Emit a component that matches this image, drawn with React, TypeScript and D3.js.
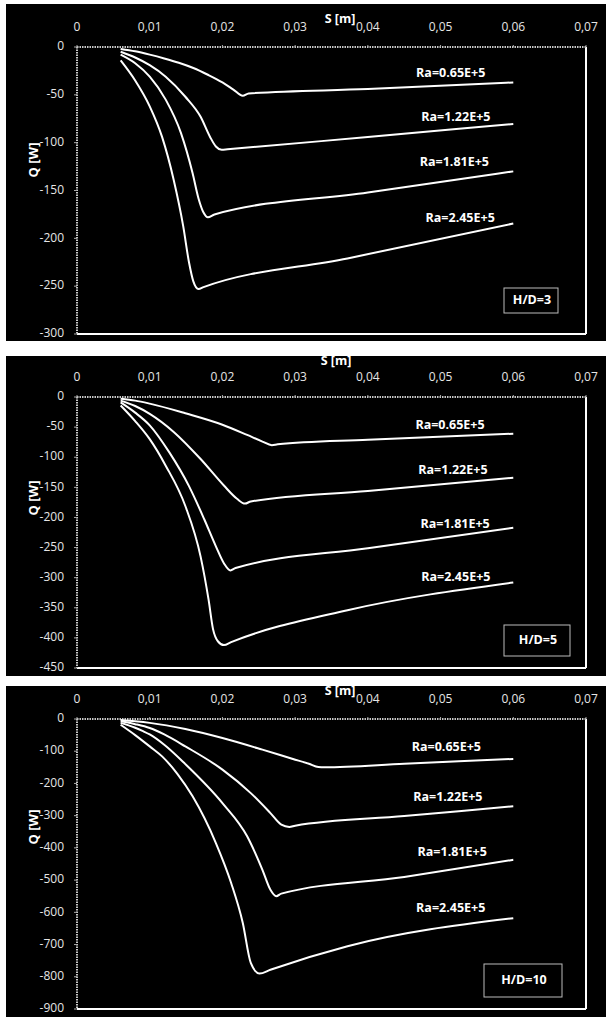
import React from "react";
import * as d3 from "d3";

// ---- data (S in m, Q in W) ----
const seriesNames = ["Ra=0.65E+5", "Ra=1.22E+5", "Ra=1.81E+5", "Ra=2.45E+5"];
const xTicks = [0, 0.01, 0.02, 0.03, 0.04, 0.05, 0.06, 0.07];

// H/D = 3
const hd3_065: [number, number][] = [[0.006, -2], [0.008, -4.5], [0.01, -8], [0.012, -12], [0.014, -16.5], [0.016, -22], [0.018, -29], [0.02, -37], [0.0215, -44.5], [0.0228, -51], [0.0236, -48.5], [0.04, -44], [0.06, -37]];
const hd3_122: [number, number][] = [[0.006, -5], [0.008, -11], [0.01, -19], [0.0122, -31], [0.0149, -52], [0.017, -73], [0.0183, -94], [0.0191, -104], [0.0199, -107.5], [0.0207, -107], [0.04, -94], [0.06, -80.5]];
const hd3_181: [number, number][] = [[0.006, -8], [0.008, -17], [0.01, -31], [0.0122, -55], [0.0143, -90], [0.0159, -132], [0.0167, -158], [0.0174, -173], [0.018, -178], [0.0189, -175], [0.04, -152], [0.06, -130]];
const hd3_245: [number, number][] = [[0.006, -14], [0.008, -35], [0.01, -62], [0.0117, -94], [0.0133, -139], [0.0146, -187], [0.0154, -225], [0.016, -245], [0.0167, -253], [0.0174, -251], [0.0372, -221], [0.06, -184.5]];

// H/D = 5
const hd5_065: [number, number][] = [[0.006, -3], [0.008, -6], [0.01, -11], [0.0149, -27], [0.02, -46], [0.0234, -63], [0.0255, -74], [0.0268, -80], [0.0276, -78.5], [0.04, -71], [0.06, -61]];
const hd5_122: [number, number][] = [[0.006, -6], [0.008, -15], [0.01, -28], [0.0133, -58], [0.017, -103], [0.0202, -147], [0.022, -169], [0.0231, -177], [0.0239, -173.5], [0.04, -156], [0.06, -134]];
const hd5_181: [number, number][] = [[0.006, -9], [0.008, -26], [0.01, -47], [0.0127, -92], [0.0154, -148], [0.0175, -203], [0.0191, -248], [0.0202, -276], [0.0211, -288], [0.0218, -284], [0.04, -251], [0.06, -217]];
const hd5_245: [number, number][] = [[0.006, -14], [0.008, -40], [0.01, -70], [0.0122, -114], [0.0149, -181], [0.017, -265], [0.0181, -337], [0.0187, -385], [0.0194, -406], [0.0202, -412], [0.0212, -407], [0.0372, -354], [0.06, -308]];

// H/D = 10
const hd10_065: [number, number][] = [[0.006, -3], [0.008, -7], [0.01, -12], [0.0149, -31], [0.02, -59], [0.0255, -95], [0.0297, -124], [0.0319, -139], [0.0332, -149], [0.034, -150], [0.045, -139], [0.06, -124]];
const hd10_122: [number, number][] = [[0.006, -7], [0.008, -16], [0.01, -28], [0.012, -48], [0.0149, -85], [0.02, -157], [0.0239, -230], [0.0266, -292], [0.0281, -328], [0.0292, -335], [0.03, -331], [0.045, -301], [0.06, -271]];
const hd10_181: [number, number][] = [[0.006, -12], [0.007, -19], [0.008, -27], [0.009, -37], [0.01, -48], [0.012, -80], [0.0149, -140], [0.02, -261], [0.0234, -364], [0.0255, -468], [0.0266, -530], [0.0274, -550], [0.0281, -542], [0.045, -490], [0.06, -437]];
const hd10_245: [number, number][] = [[0.006, -18], [0.008, -50], [0.01, -85], [0.0117, -116], [0.0138, -170], [0.0159, -240], [0.0191, -385], [0.0212, -509], [0.0228, -633], [0.0239, -757], [0.0251, -790], [0.0266, -778], [0.0372, -705], [0.06, -618]];

// label anchors [S, Q] for each series, per panel
const hd3Labels: [number, number][] = [[0.0514, -28], [0.0521, -74], [0.0519, -121], [0.0527, -179]];
const hd5Labels: [number, number][] = [[0.0513, -47], [0.0517, -123], [0.052, -212], [0.0521, -300]];
const hd10Labels: [number, number][] = [[0.0508, -90], [0.051, -245], [0.0516, -416], [0.0514, -590]];

const hd3Ticks = [0, -50, -100, -150, -200, -250, -300];
const hd5Ticks = [0, -50, -100, -150, -200, -250, -300, -350, -400, -450];
const hd10Ticks = [0, -100, -200, -300, -400, -500, -600, -700, -800, -900];

const panelNames = ["H/D=3", "H/D=5", "H/D=10"];

type PanelCfg = {
  bg: [number, number];
  plotTop: number;
  plotBottom: number;
  yMin: number;
  yTicks: number[];
  series: [number, number][][];
  labels: [number, number][];
  name: string;
  box: [number, number, number, number];
  qTitleY: number;
  xTickY: number;
  sTitleY: number;
  sTitleX: number;
};

const panels: PanelCfg[] = [
  { bg: [4, 337], plotTop: 47, plotBottom: 334, yMin: -300, yTicks: hd3Ticks, series: [hd3_065, hd3_122, hd3_181, hd3_245], labels: hd3Labels, name: panelNames[0], box: [504, 288, 54, 25], qTitleY: 160, xTickY: 28, sTitleY: 20, sTitleX: 340 },
  { bg: [356, 320], plotTop: 397, plotBottom: 668, yMin: -450, yTicks: hd5Ticks, series: [hd5_065, hd5_122, hd5_181, hd5_245], labels: hd5Labels, name: panelNames[1], box: [504, 625, 66, 31], qTitleY: 498, xTickY: 378, sTitleY: 362, sTitleX: 336 },
  { bg: [686, 331], plotTop: 719, plotBottom: 1009, yMin: -900, yTicks: hd10Ticks, series: [hd10_065, hd10_122, hd10_181, hd10_245], labels: hd10Labels, name: panelNames[2], box: [484, 964, 78, 33], qTitleY: 827, xTickY: 700, sTitleY: 692, sTitleX: 340 },
];

const FONT = "'Open Sans', 'Noto Sans', sans-serif";
const X0 = 77;
const X1 = 586;

function Panel({ cfg }: { cfg: PanelCfg }) {
  const x = d3.scaleLinear().domain([0, 0.07]).range([X0, X1]);
  const y = d3.scaleLinear().domain([cfg.yMin, 0]).range([cfg.plotBottom, cfg.plotTop]);
  const line = d3
    .line<[number, number]>()
    .x((d) => x(d[0]))
    .y((d) => y(d[1]))
    .curve(d3.curveMonotoneX);
  const fmtX = (v: number) => (v === 0 ? "0" : d3.format(".2f")(v).replace(".", ","));
  return (
    <g>
      <rect x={6} y={cfg.bg[0]} width={600} height={cfg.bg[1]} fill="#000" />
      <line x1={X1} x2={X1} y1={cfg.plotTop} y2={cfg.plotBottom} stroke="#fff" strokeWidth={2} />
      <line x1={X0} x2={X1} y1={cfg.plotBottom} y2={cfg.plotBottom} stroke="#fff" strokeWidth={2} />
      <line x1={X0} x2={X1} y1={cfg.plotTop} y2={cfg.plotTop} stroke="#c8c8c8" strokeWidth={2} strokeDasharray="1.5,1" />
      <line x1={X0} x2={X0} y1={cfg.plotTop} y2={cfg.plotBottom} stroke="#c8c8c8" strokeWidth={2} strokeDasharray="1.5,1" />
      {xTicks.map((t) => (
        <g key={"xt" + t}>
          <line x1={x(t)} x2={x(t)} y1={cfg.plotTop - 2} y2={cfg.plotTop} stroke="#aaa" strokeWidth={1} />
          <text x={x(t)} y={cfg.xTickY} fill="#e6e6e6" fontSize={12} fontFamily={FONT} textAnchor="middle" dominantBaseline="middle">
            {fmtX(t)}
          </text>
        </g>
      ))}
      {cfg.yTicks.map((t) => (
        <g key={"yt" + t}>
          <line x1={X0 - 3} x2={X0} y1={y(t)} y2={y(t)} stroke="#aaa" strokeWidth={1} />
          <text x={64} y={y(t)} fill="#e6e6e6" fontSize={12} fontFamily={FONT} textAnchor="end" dominantBaseline="middle">
            {t === 0 ? "0" : "-" + Math.abs(t)}
          </text>
        </g>
      ))}
      <text x={cfg.sTitleX} y={cfg.sTitleY} fill="#fff" fontSize={12.5} fontWeight="bold" fontFamily={FONT} textAnchor="middle" dominantBaseline="middle">
        S [m]
      </text>
      <text
        transform={`translate(35,${cfg.qTitleY}) rotate(-90)`}
        fill="#fff"
        fontSize={13}
        fontWeight="bold"
        fontFamily={FONT}
        textAnchor="middle"
        dominantBaseline="middle"
      >
        Q [W]
      </text>
      {cfg.series.map((s, i) => (
        <path key={"s" + i} d={line(s) || ""} fill="none" stroke="#fff" strokeWidth={2} strokeLinejoin="round" />
      ))}
      {cfg.labels.map((p, i) => (
        <text key={"l" + i} x={x(p[0])} y={y(p[1])} fill="#fff" fontSize={12.5} fontWeight="bold" fontFamily={FONT} textAnchor="middle" dominantBaseline="middle">
          {seriesNames[i]}
        </text>
      ))}
      <rect x={cfg.box[0]} y={cfg.box[1]} width={cfg.box[2]} height={cfg.box[3]} fill="#000" stroke="#bbb" strokeWidth={1} />
      <text x={cfg.box[0] + cfg.box[2] / 2 + 1} y={cfg.box[1] + cfg.box[3] / 2} fill="#fff" fontSize={12.5} fontWeight="bold" fontFamily={FONT} textAnchor="middle" dominantBaseline="middle">
        {cfg.name}
      </text>
    </g>
  );
}

export default function App() {
  return (
    <svg width={606} height={1017} style={{ position: "absolute", left: 0, top: 0, background: "#fff" }}>
      <rect x={0} y={0} width={606} height={1017} fill="#fff" />
      {panels.map((p, i) => (
        <Panel key={i} cfg={p} />
      ))}
    </svg>
  );
}
